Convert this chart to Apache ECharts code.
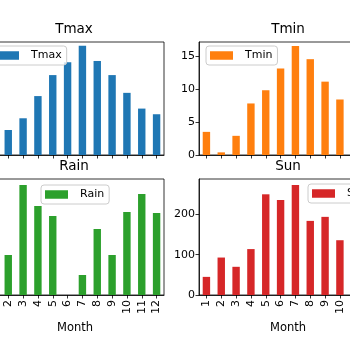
<!DOCTYPE html>
<html>
<head>
<meta charset="utf-8">
<script src="https://cdn.jsdelivr.net/npm/echarts@6/dist/echarts.min.js"></script>
<style>
  html, body { margin: 0; padding: 0; background: #fff; }
  #chart { width: 350px; height: 350px; }
</style>
</head>
<body>
<div id="chart"></div>
<script>
// monthly weather data
const months = ["1", "2", "3", "4", "5", "6", "7", "8", "9", "10", "11", "12"];
const tmax = [8.0, 6.2, 9.1, 14.6, 19.8, 23.0, 27.1, 23.3, 19.8, 15.4, 11.5, 10.1];
const tmin = [3.5, 0.4, 2.9, 7.8, 9.8, 13.1, 16.5, 14.5, 11.1, 8.4, 5.5, 3.7];
const rain = [60, 40, 110, 89, 79, 0, 20, 66, 40, 83, 101, 82];
const sun = [45, 93, 70, 114, 250, 236, 273, 184, 194, 136, 60, 40];

const font = "DejaVu Sans";
const colors = ["#1f77b4", "#ff7f0e", "#2ca02c", "#d62728"];

const chart = echarts.init(document.getElementById("chart"));

function grid(left, top, height) {
  return {
    left: left, top: top, width: 178, height: height,
    containLabel: false, outerBoundsMode: "none",
    show: true, borderColor: "#000", borderWidth: 0.8, backgroundColor: "transparent",
  };
}

function xAxis(idx, showLabels) {
  return {
    type: "category",
    gridIndex: idx,
    data: months,
    name: showLabels ? "Month" : "",
    nameLocation: "middle",
    nameGap: 27,
    nameTextStyle: { fontFamily: font, fontSize: 11.5, color: "#000" },
    axisLine: { lineStyle: { color: "#000", width: 0.8 } },
    axisTick: { show: true, alignWithLabel: true, length: 3.5, lineStyle: { color: "#000", width: 0.8 } },
    axisLabel: {
      show: showLabels, rotate: 90, interval: 0, margin: 5,
      fontFamily: font, fontSize: 11, color: "#000",
    },
    splitLine: { show: false },
  };
}

function yAxis(idx, max, interval) {
  return {
    type: "value",
    gridIndex: idx,
    min: 0,
    max: max,
    interval: interval,
    axisLine: { show: true, lineStyle: { color: "#000", width: 0.8 } },
    axisTick: { show: true, length: 3.5, lineStyle: { color: "#000", width: 0.8 } },
    axisLabel: {
      showMaxLabel: false, margin: 4,
      fontFamily: font, fontSize: 11, color: "#000",
      formatter: function (v) { return v % interval === 0 ? String(v) : ""; },
    },
    splitLine: { show: false },
  };
}

function legend(name, left, top) {
  return {
    data: [name],
    left: left, top: top,
    icon: "rect",
    itemWidth: 23, itemHeight: 8.5,
    padding: [4, 5, 4, 4],
    borderColor: "#cccccc", borderWidth: 1, borderRadius: 3,
    backgroundColor: "rgba(255,255,255,0.8)",
    textStyle: { fontFamily: font, fontSize: 11, color: "#000", padding: [0, 0, 0, 7] },
  };
}

function title(text, left, top) {
  return {
    text: text, left: left, top: top, textAlign: "center", padding: 0,
    textStyle: { fontFamily: font, fontSize: 13.5, fontWeight: "normal", color: "#000" },
  };
}

function bars(name, idx, data) {
  return {
    name: name, type: "bar", xAxisIndex: idx, yAxisIndex: idx,
    data: data, barWidth: "50%", itemStyle: { color: colors[idx] },
  };
}

chart.setOption({
  animation: false,
  backgroundColor: "#fff",
  color: colors,
  title: [
    title("Tmax", 74, 22),
    title("Tmin", 288, 22),
    title("Rain", 74, 159),
    title("Sun", 288, 159),
  ],
  legend: [
    legend("Tmax", -8, 46),
    legend("Tmin", 206, 46),
    legend("Rain", 41, 185),
    legend("Sun", 308, 184),
  ],
  grid: [
    grid(-14, 42, 113),
    grid(199, 42, 113),
    grid(-14, 179, 116),
    grid(199, 179, 116),
  ],
  xAxis: [xAxis(0, false), xAxis(1, false), xAxis(2, true), xAxis(3, true)],
  yAxis: [yAxis(0, 28, 5), yAxis(1, 17.1, 5), yAxis(2, 116, 20), yAxis(3, 288, 100)],
  series: [
    bars("Tmax", 0, tmax),
    bars("Tmin", 1, tmin),
    bars("Rain", 2, rain),
    bars("Sun", 3, sun),
  ],
});
</script>
</body>
</html>
